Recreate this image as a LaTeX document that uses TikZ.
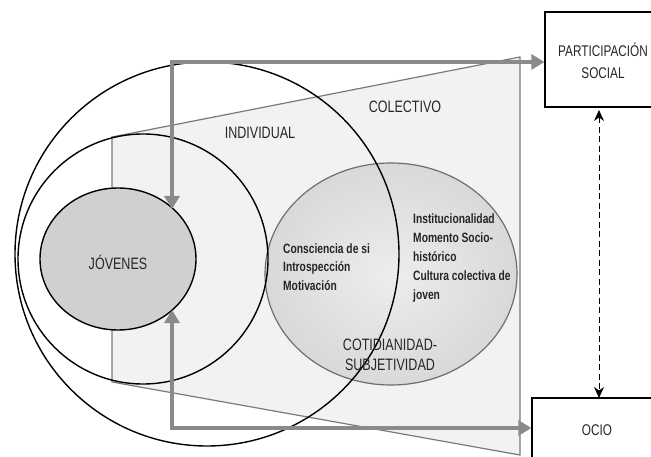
\documentclass[tikz,border=0pt]{standalone}
\usepackage{fontspec}
\setmainfont{Liberation Sans}[FakeStretch=0.76]
\usetikzlibrary{arrows.meta,shapes.geometric}
\definecolor{txt}{HTML}{262626}
\definecolor{trapfill}{HTML}{F2F2F2}
\definecolor{linegray}{HTML}{7A7A7A}
\definecolor{arrowgray}{HTML}{8A8A8A}
\definecolor{ellgray}{HTML}{6E6E6E}
\definecolor{jovfill}{HTML}{D0D0D0}
\begin{document}
\begin{tikzpicture}[x=1pt,y=-1pt,
  circ/.style={draw=black, line width=1.4pt, circle, inner sep=0pt},
  lbl/.style={text=txt, font=\fontsize{16.5}{20}\selectfont, inner sep=0pt, align=center},
  boldlbl/.style={text=txt, font=\bfseries\fontsize{13.5}{18.8}\selectfont, inner sep=0pt, align=left, anchor=west},
  boxnode/.style={draw=black, line width=1.3pt, rectangle, inner sep=0pt},
  garrow/.style={draw=arrowgray, line width=4.2pt, line join=miter,
     {Triangle[length=13pt,width=15pt]}-{Triangle[length=13pt,width=15pt]}},
  darrow/.style={draw=black, line width=0.9pt, dash pattern=on 6pt off 3.5pt,
     {Stealth[length=11pt,width=10pt]}-{Stealth[length=11pt,width=10pt]}}
]
\clip (0,0) rectangle (651,457);
\fill[white] (0,0) rectangle (651,457);

% collective trapezoid
\filldraw[fill=trapfill, draw=linegray, line width=1.2pt]
  (112,137) -- (520,57) -- (520,455) -- (112,382) -- cycle;

% everyday life ellipse
\node[ellipse, draw=ellgray, line width=1.2pt, inner color=black!7, outer color=black!15,
      minimum width=252pt, minimum height=222pt, inner sep=0pt] (coti) at (391,274) {};

% circles
\node[circ, minimum size=384pt] (outer) at (207,254) {};
\node[circ, minimum size=250pt] (indiv) at (143,259) {};

% young people
\node[ellipse, draw=black, line width=1.4pt, fill=jovfill,
      minimum width=156pt, minimum height=142pt, inner sep=0pt] (jov) at (118,259) {};

% boxes
\node[boxnode, minimum width=116pt, minimum height=95pt] (part) at (603,59.5) {};
\node[boxnode, minimum width=132pt, minimum height=64pt] (ocio) at (598,430) {};

% arrow coordinates
\coordinate (tcorner) at (172,62);
\coordinate (ttip) at (172,209);
\coordinate (bcorner) at (172,428);
\coordinate (btip) at (172,310);

\draw[garrow] (ttip) -- (tcorner) -- (part.west |- tcorner);
\draw[garrow] (btip) -- (bcorner) -- (ocio.west |- bcorner);

\coordinate (dtop) at (599,110);
\coordinate (dbot) at (599,398);
\draw[darrow] (dtop) -- (dbot);

% labels
\node[lbl] (tjov) at (118,262) {JÓVENES};
\node[lbl] (tind) at (260,133) {INDIVIDUAL};
\node[lbl] (tcol) at (405,107) {COLECTIVO};
\node[lbl] (tcoti) at (390,355) {COTIDIANIDAD-\\SUBJETIVIDAD};
\node[boldlbl] (tleft) at (283,267) {Consciencia de si\\Introspección\\Motivación};
\node[boldlbl] (tright) at (413,258) {Institucionalidad\\Momento Socio-\\histórico\\Cultura colectiva de\\joven};
\node[lbl, font=\fontsize{15.5}{22}\selectfont] (tpart) at (603,61) {PARTICIPACIÓN\\SOCIAL};
\node[lbl, font=\fontsize{15.5}{20}\selectfont] (tocio) at (597,430) {OCIO};
\end{tikzpicture}
\end{document}
